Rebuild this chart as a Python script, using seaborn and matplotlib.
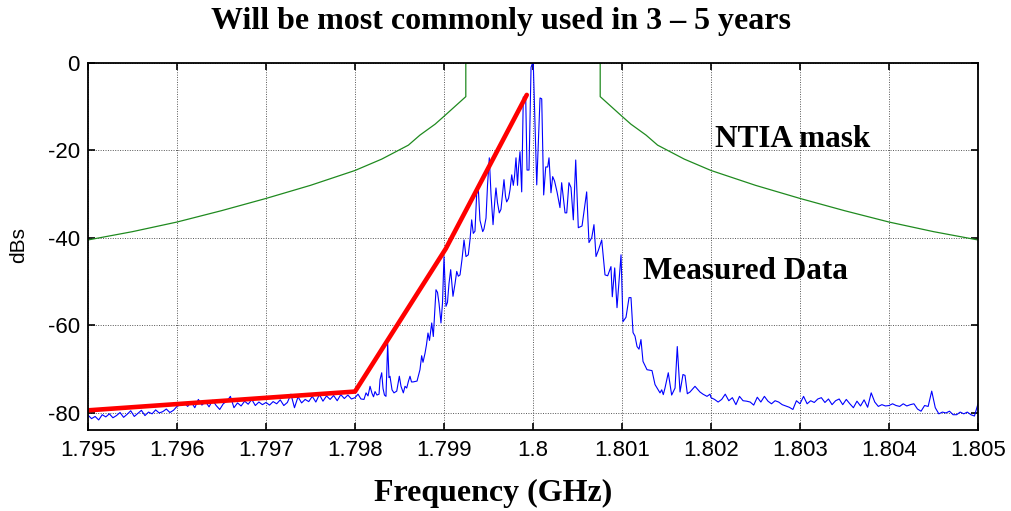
import numpy as np
import pandas as pd
import matplotlib
matplotlib.use("Agg")
import matplotlib.pyplot as plt
import seaborn as sns

# ---------------- data ----------------
title_text = "Will be most commonly used in 3 \u2013 5 years"
x_label = "Frequency (GHz)"
y_label = "dBs"
x_ticks = [1.795, 1.796, 1.797, 1.798, 1.799, 1.8, 1.801, 1.802, 1.803, 1.804, 1.805]
x_tick_labels = ["1.795", "1.796", "1.797", "1.798", "1.799", "1.8",
                 "1.801", "1.802", "1.803", "1.804", "1.805"]
y_ticks = [0, -20, -40, -60, -80]
y_tick_labels = ["0", "-20", "-40", "-60", "-80"]

# NTIA mask (green)
mask_freq = [1.795, 1.7955, 1.796, 1.7965, 1.797, 1.7975, 1.798, 1.7983, 1.7986, 1.79873,
             1.7989, 1.799, 1.799245, 1.799245, 1.800755, 1.800755, 1.801, 1.8011, 1.80127,
             1.8014, 1.8017, 1.802, 1.8025, 1.803, 1.8035, 1.804, 1.8045, 1.805]
mask_db = [-40.5, -38.6, -36.4, -33.8, -31.0, -28.0, -24.6, -22.0, -18.8, -16.5,
           -14.0, -12.2, -7.7, 0.0, 0.0, -7.7, -12.2, -14.0, -16.5,
           -18.8, -22.0, -24.6, -28.0, -31.0, -33.8, -36.4, -38.6, -40.5]

# Red envelope line
red_freq = [1.795, 1.798, 1.79902, 1.79993]
red_db = [-79.5, -75.2, -42.5, -7.3]

# Measured data (blue): left noise floor 1.795 -> 1.798
floor_left_db = [
    -80.6, -81.4, -80.9, -81.7, -80.5, -81.0, -80.3, -81.2, -80.7, -80.0, -81.1, -80.4, -79.6,
    -80.9, -80.2, -79.5, -80.7, -79.9, -80.3, -79.4, -80.1, -79.8, -79.2, -80.0, -79.5, -78.6,
    -78.2, -77.8, -78.6, -77.6, -78.9, -77.0, -78.3, -77.5, -78.7, -77.2, -78.4, -79.3, -78.0,
    -77.4, -76.3, -78.9, -77.8, -78.5, -77.4, -78.1, -77.0, -78.4, -77.6, -78.2, -77.7,
    -78.3, -77.5, -78.0, -77.1, -78.4, -77.7, -75.8, -78.9, -76.4, -77.8, -77.0, -77.5, -76.3,
    -77.6, -75.9, -77.4, -76.2, -77.0, -76.1, -77.3, -75.9, -76.8, -76.0, -76.9, -76.6]

# Measured data (blue): main lobe 1.798 -> 1.802
mid_freq = [
    1.798034, 1.798067, 1.798101, 1.798124, 1.798146, 1.798169, 1.798191, 1.798208, 1.798225,
    1.798247, 1.798270, 1.798281, 1.798300, 1.798315, 1.798331, 1.798348, 1.798367, 1.798382,
    1.798393, 1.798416, 1.798438, 1.798469, 1.798483, 1.798498, 1.798517, 1.798543, 1.798562,
    1.798581, 1.798601, 1.798618, 1.798635, 1.798652, 1.798674, 1.798697, 1.798713, 1.798730,
    1.798749, 1.798764, 1.798787, 1.798803, 1.798820, 1.798837, 1.798862, 1.798880, 1.798893,
    1.798910, 1.798927, 1.798944, 1.798966, 1.798983, 1.799000, 1.799022, 1.799039, 1.799056,
    1.799075, 1.799101, 1.799124, 1.799143, 1.799161, 1.799180, 1.799202, 1.799225, 1.799247,
    1.799273, 1.799292, 1.799311, 1.799329, 1.799348, 1.799367, 1.799385, 1.799404, 1.799435,
    1.799449, 1.799472, 1.799489, 1.799509, 1.799528, 1.799551, 1.799573, 1.799584, 1.799601,
    1.799621, 1.799640, 1.799663, 1.799674, 1.799691, 1.799704, 1.799725, 1.799742, 1.799761,
    1.799779, 1.799792, 1.799809, 1.799826, 1.799837, 1.799854, 1.799873, 1.799891, 1.799918,
    1.799933, 1.799955, 1.799978, 1.799990, 1.800003, 1.800042, 1.800079, 1.800098, 1.800120,
    1.800143, 1.800165, 1.800180, 1.800202, 1.800221, 1.800242, 1.800270, 1.800303, 1.800322,
    1.800360, 1.800379, 1.800404, 1.800427, 1.800453, 1.800480, 1.800509, 1.800551, 1.800603,
    1.800629, 1.800660, 1.800685, 1.800708, 1.800734, 1.800772, 1.800809, 1.800839, 1.800876,
    1.800891, 1.800918, 1.800944, 1.800989, 1.801011, 1.801045, 1.801079, 1.801101, 1.801124,
    1.801146, 1.801169, 1.801191, 1.801213, 1.801236, 1.801281, 1.801337, 1.801371, 1.801404,
    1.801427, 1.801446, 1.801464, 1.801483, 1.801520, 1.801558, 1.801596, 1.801621, 1.801652,
    1.801685, 1.801708, 1.801734, 1.801764, 1.801820, 1.801854, 1.801876, 1.801910, 1.801955,
    1.801989]
mid_db = [
    -75.8, -76.9, -77.0, -75.5, -76.2, -74.0, -75.6, -76.4, -75.2,
    -76.0, -75.8, -72.5, -70.9, -74.5, -76.0, -76.3, -64.2, -72.0,
    -71.7, -74.8, -75.5, -75.1, -73.5, -71.7, -74.0, -75.5, -74.0,
    -74.4, -72.8, -71.7, -73.0, -73.0, -72.9, -72.8, -71.5, -70.2,
    -67.0, -68.5, -66.4, -64.5, -61.8, -63.5, -59.5, -62.6, -58.0,
    -51.9, -52.5, -55.0, -59.5, -55.0, -44.3, -55.7, -54.8, -50.5,
    -47.3, -53.4, -50.5, -47.7, -48.8, -48.5, -45.0, -40.5, -44.3,
    -43.9, -40.5, -35.9, -39.0, -38.5, -30.0, -28.6, -36.0, -38.6,
    -38.0, -35.5, -28.0, -21.7, -30.0, -37.0, -31.0, -28.6, -32.0,
    -34.3, -33.5, -29.0, -26.7, -30.5, -31.8, -31.0, -29.0, -25.6,
    -28.0, -26.0, -21.7, -28.0, -24.0, -20.3, -29.5, -7.8, -7.8,
    -24.5, -24.5, -1.0, -0.3, 0.0, -27.9, -8.0, -8.2, -30.2,
    -23.8, -23.8, -21.7, -29.7, -26.0, -27.0, -29.5, -33.1, -27.4,
    -34.3, -34.3, -27.4, -28.5, -35.9, -22.2, -37.7, -37.3, -29.5,
    -41.1, -40.0, -37.0, -44.3, -42.9, -40.5, -48.5, -48.7, -46.6,
    -53.5, -46.9, -56.0, -43.9, -59.2, -58.2, -53.7, -53.7, -61.7,
    -62.5, -64.9, -65.5, -63.3, -68.3, -70.2, -70.4, -73.6, -74.7,
    -75.5, -74.8, -75.9, -74.4, -70.9, -76.0, -74.4, -64.9, -75.3,
    -71.3, -71.5, -75.7, -75.3, -74.0, -74.8, -75.3, -75.8, -76.3,
    -75.8]

# Measured data (blue): right noise floor 1.802 -> 1.805
floor_right_db = [
    -76.6, -77.0, -77.6, -77.0, -75.8, -77.3, -76.6, -78.2, -76.3, -77.3, -77.4, -77.6, -78.3,
    -76.5, -77.6, -76.3, -77.4, -78.0, -77.3, -77.6, -78.2, -78.5, -78.8, -79.3, -77.3, -78.0,
    -76.3, -78.0, -77.3, -77.7, -76.9, -76.6, -77.7, -76.9, -78.2, -77.3, -76.9, -78.2, -77.0,
    -78.0, -78.9, -77.4, -78.5, -77.1, -78.8, -75.5, -77.6, -78.6, -78.2, -78.5, -78.4, -78.0,
    -78.4, -78.6, -78.0, -78.5, -78.2, -78.0, -79.2, -79.7, -78.4, -78.6, -75.1, -78.9, -80.3,
    -79.9, -80.1, -79.7, -80.5, -80.5, -79.9, -80.3, -79.9, -80.5, -80.8, -78.0]

floor_left_freq = np.linspace(1.795, 1.798, len(floor_left_db))
floor_right_freq = np.linspace(1.802, 1.805, len(floor_right_db))

blue_df = pd.DataFrame({
    "freq": np.concatenate([floor_left_freq, mid_freq, floor_right_freq]),
    "db": np.concatenate([floor_left_db, mid_db, floor_right_db]),
})
mask_df = pd.DataFrame({"freq": mask_freq, "db": mask_db})
red_df = pd.DataFrame({"freq": red_freq, "db": red_db})

# ---------------- figure ----------------
sns.set_style("ticks")
plt.rcParams["font.family"] = ["Liberation Sans", "DejaVu Sans"]
plt.rcParams["text.color"] = "black"
plt.rcParams["axes.labelcolor"] = "black"
plt.rcParams["xtick.color"] = "black"
plt.rcParams["ytick.color"] = "black"
plt.rcParams["axes.unicode_minus"] = False

W, H = 1011, 511
fig = plt.figure(figsize=(W / 100, H / 100), dpi=100)
ax = fig.add_axes([88 / W, 1 - 430 / H, 890 / W, 367 / H])

sns.lineplot(data=mask_df, x="freq", y="db", estimator=None, sort=False,
             color="#1f8a1f", linewidth=0.9, ax=ax)
sns.lineplot(data=blue_df, x="freq", y="db", estimator=None, sort=False,
             color="#0000ff", linewidth=0.8, ax=ax)
sns.lineplot(data=red_df, x="freq", y="db", estimator=None, sort=False,
             color="#ff0000", linewidth=3.3, ax=ax)

ax.set_xlim(1.795, 1.805)
ax.set_ylim(-84, 0)
ax.set_xticks(x_ticks)
ax.set_xticklabels(x_tick_labels)
ax.set_yticks(y_ticks)
ax.set_yticklabels(y_tick_labels)
ax.set_xlabel("")
ax.set_ylabel("")
ax.grid(True, linestyle=(0, (1, 1.5)), color="#555555", linewidth=0.7)
ax.set_axisbelow(True)
ax.tick_params(direction="in", top=True, right=True, length=5, width=1.2,
               labelsize=16, colors="black")
ax.tick_params(axis="x", pad=7)
ax.tick_params(axis="y", pad=6)
for s in ax.spines.values():
    s.set_visible(True)
    s.set_color("black")
    s.set_linewidth(1.3)

serif_bold = dict(family=["Liberation Serif", "DejaVu Serif"], weight="bold")
fig.text(501 / W, 1 - 22 / H, title_text, ha="center", va="center",
         fontsize=23, color="black", **serif_bold)
fig.text(493 / W, 1 - 493 / H, x_label, ha="center", va="center",
         fontsize=23, color="black", **serif_bold)
fig.text(19 / W, 1 - 245 / H, y_label, ha="center", va="center",
         rotation=90, fontsize=15, color="black")
ax.text(1.80205, -17.5, "NTIA mask", ha="left", va="center", fontsize=22.5,
        color="black", **serif_bold)
ax.text(1.80124, -47.8, "Measured Data", ha="left", va="center", fontsize=22.5,
        color="black", **serif_bold)

fig.savefig("out.png", dpi=100)
